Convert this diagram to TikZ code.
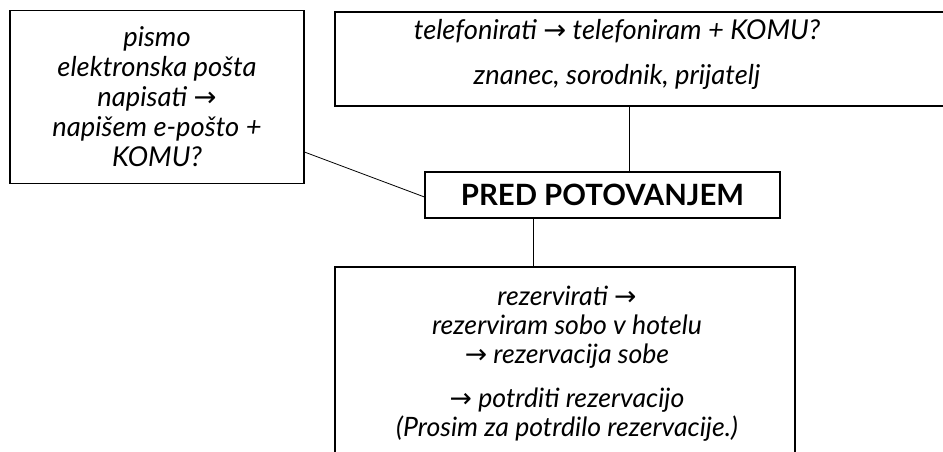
\documentclass[tikz,border=0pt]{standalone}
\usepackage{fontspec}
\setmainfont{Lato}
\newfontfamily\arrowfont{DejaVu Sans}
\newcommand{\arr}{{\arrowfont\upshape →}}
\usetikzlibrary{positioning}

\tikzset{
  box/.style={draw, line width=0.8pt, rectangle, inner sep=0pt},
  txt/.style={align=center, font=\itshape\fontsize{20.5}{21.75}\selectfont},
  hubtxt/.style={font=\bfseries\fontsize{22}{24}\selectfont}
}

\begin{document}
\begin{tikzpicture}[x=0.75pt,y=-0.75pt]
  \useasboundingbox (0,0) rectangle (943,451);
  \clip (0,0) rectangle (943,451);

  \node[box, txt, font=\itshape\fontsize{20.5}{22.5}\selectfont,
        minimum width=220.5pt, minimum height=129.75pt] (pismo) at (157,97)
    {pismo\\elektronska pošta\\napisati \arr\\napišem e-pošto +\\KOMU?};

  \node[box, minimum width=468.75pt, minimum height=70.5pt] (tel) at (647.5,59) {};
  \node[txt] (teltxt) at (617,54)
    {telefonirati \arr{} telefoniram + KOMU?\\[12pt]znanec, sorodnik, prijatelj};

  \node[box, hubtxt, minimum width=266.25pt, minimum height=34.5pt] (hub) at (602.5,195)
    {PRED POTOVANJEM};

  \node[box, minimum width=345pt, minimum height=152.25pt] (rez) at (565,368.5) {};
  \node[txt, font=\itshape\fontsize{20}{21.5}\selectfont] (reztxt) at (567,364)
    {rezervirati \arr\\rezerviram sobo v hotelu\\\arr{} rezervacija sobe\\[12pt]
     \arr{} potrditi rezervacijo\\(Prosim za potrdilo rezervacije.)};

  \draw[line width=0.6pt] ([yshift=24pt]pismo.south east) -- ([yshift=-1.5pt]hub.west);
  \draw[line width=0.6pt] ([xshift=20pt]hub.north) -- ([xshift=20pt]hub.north |- tel.south);
  \draw[line width=0.6pt] ([xshift=-52pt]hub.south) -- ([xshift=-52pt]hub.south |- rez.north);
\end{tikzpicture}
\end{document}
